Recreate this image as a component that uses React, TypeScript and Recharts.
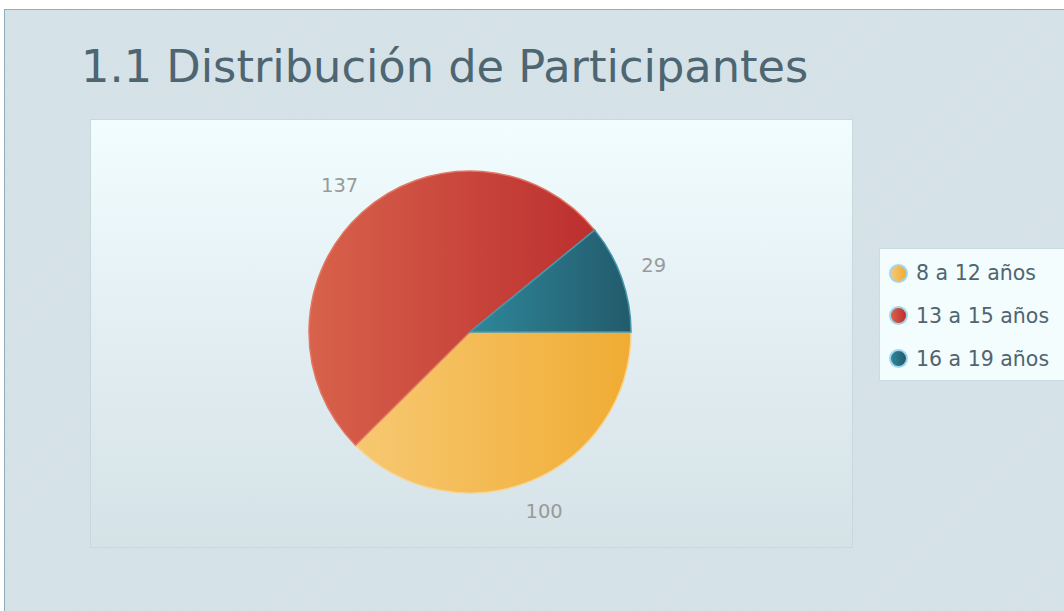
import { PieChart, Pie, Cell, Legend } from 'recharts';

// participantes por grupo de edad
const groups = ['8 a 12 años', '13 a 15 años', '16 a 19 años'];
const counts = [100, 137, 29];

// gradient stops (left -> right) and edge stroke per slice
const gradFrom = ['#f7c872', '#d8624b', '#2f879a'];
const gradTo = ['#f0ac33', '#bc2f2f', '#225b6c'];
const edges = ['#f8d48f', '#e27763', '#4596aa'];

const data = groups.map((g, i) => ({ name: g, value: counts[i] }));

const FONT = '"DejaVu Sans", Verdana, sans-serif';
const RADIAN = Math.PI / 180;

function renderLabel(props: any) {
    const { cx, cy, midAngle, value } = props;
    const r = 195;
    const x = cx + r * Math.cos(-midAngle * RADIAN);
    const y = cy + r * Math.sin(-midAngle * RADIAN) - 1;
    return (
        <text x={x} y={y} fill="#9a9a9a" fontSize={19.5} fontFamily={FONT} textAnchor="middle" dominantBaseline="central">
            {value}
        </text>
    );
}

function LegendBox() {
    return (
        <div style={{
            width: 200, height: 133, boxSizing: 'border-box',
            background: '#f3fdfe', border: '1px solid #c9dce2',
            paddingTop: 3, paddingLeft: 9, fontFamily: FONT,
        }}>
            {groups.map((g, i) => (
                <div key={g} style={{ display: 'flex', alignItems: 'center', height: i === 0 ? 42 : 43 }}>
                    <span style={{
                        width: 19, height: 19, borderRadius: '50%', boxSizing: 'border-box',
                        border: '2px solid #a3d4ee', flexShrink: 0,
                        background: `linear-gradient(90deg, ${gradFrom[i]}, ${gradTo[i]})`,
                        marginRight: 8,
                    }} />
                    <span style={{ fontSize: 20.5, color: '#4f6571', whiteSpace: 'nowrap' }}>{g}</span>
                </div>
            ))}
        </div>
    );
}

export default function App() {
    return (
        <div style={{ position: 'absolute', left: 0, top: 0, width: 1064, height: 611, overflow: 'hidden', background: '#fff' }}>
            {/* outer panel with fine diagonal hatching */}
            <div style={{
                position: 'absolute', left: 4, top: 9, width: 1080, height: 620,
                borderLeft: '1px solid #8eaebb', borderTop: '1px solid #8eaebb',
                backgroundColor: '#d4e1e7',
                backgroundImage: 'repeating-linear-gradient(135deg, rgba(255,255,255,0.08) 0px, rgba(255,255,255,0.08) 1px, rgba(0,0,0,0) 1px, rgba(0,0,0,0) 3px)',
            }} />
            <div style={{
                position: 'absolute', left: 81, top: 38, fontFamily: FONT, fontSize: 44.7,
                color: '#4e6572', whiteSpace: 'nowrap', lineHeight: '58px',
            }}>
                1.1 Distribución de Participantes
            </div>
            {/* plot area */}
            <div style={{
                position: 'absolute', left: 90, top: 119, width: 763, height: 429, boxSizing: 'border-box',
                border: '1px solid #c6d9df',
                background: 'linear-gradient(180deg, #f1fdfe 0%, #e2eef2 50%, #d5e2e7 100%)',
            }} />
            <div style={{ position: 'absolute', left: 0, top: 0 }}>
                <PieChart width={1064} height={611} margin={{ top: 0, right: 0, bottom: 0, left: 0 }}>
                    <defs>
                        {groups.map((g, i) => (
                            <linearGradient key={g} id={`slice${i}`} x1="0" y1="0" x2="1" y2="0">
                                <stop offset="0%" stopColor={gradFrom[i]} />
                                <stop offset="100%" stopColor={gradTo[i]} />
                            </linearGradient>
                        ))}
                    </defs>
                    <Pie
                        data={data}
                        dataKey="value"
                        nameKey="name"
                        cx={470}
                        cy={332}
                        outerRadius={161}
                        startAngle={0}
                        endAngle={-360}
                        label={renderLabel}
                        labelLine={false}
                        isAnimationActive={false}
                    >
                        {data.map((d, i) => (
                            <Cell key={d.name} fill={`url(#slice${i})`} stroke={edges[i]} strokeWidth={1.5} />
                        ))}
                    </Pie>
                    <Legend
                        layout="vertical"
                        content={() => <LegendBox />}
                        wrapperStyle={{ position: 'absolute', left: 879, top: 248, width: 200 }}
                    />
                </PieChart>
            </div>
        </div>
    );
}
